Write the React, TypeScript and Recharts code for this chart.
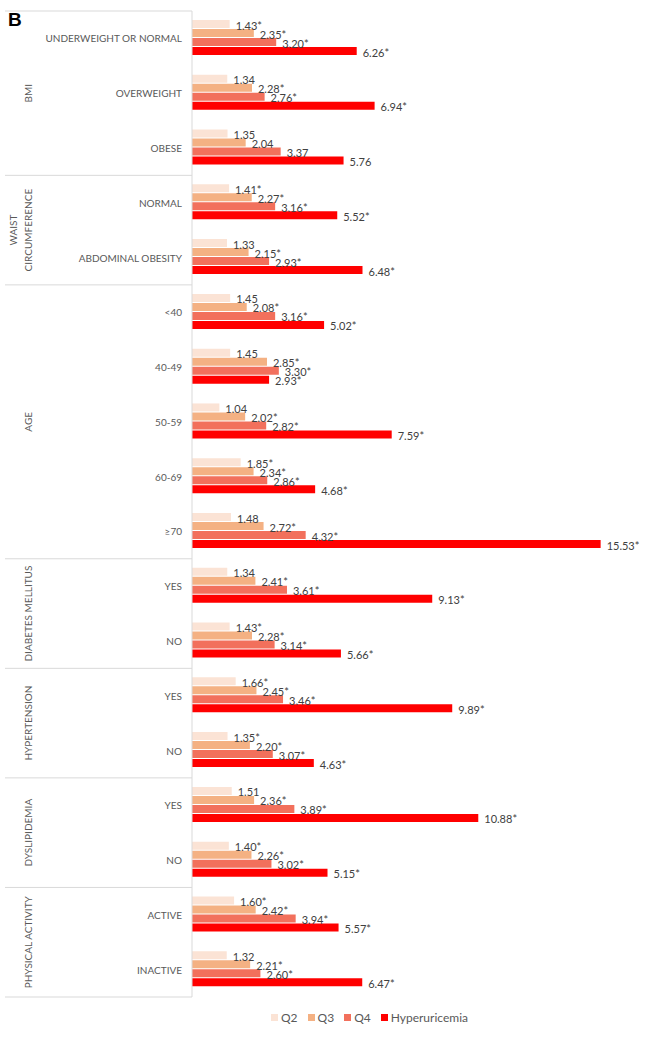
import React from "react";
import { BarChart, Bar, XAxis, YAxis, LabelList, Legend } from "recharts";

const categories = [
  "UNDERWEIGHT OR NORMAL", "OVERWEIGHT", "OBESE",
  "NORMAL", "ABDOMINAL OBESITY",
  "<40", "40-49", "50-59", "60-69", "≥70",
  "YES", "NO",
  "YES", "NO",
  "YES", "NO",
  "ACTIVE", "INACTIVE",
];

const groups = [
  { lines: ["BMI"], size: 3 },
  { lines: ["WAIST", "CIRCUMFERENCE"], size: 2 },
  { lines: ["AGE"], size: 5 },
  { lines: ["DIABETES MELLITUS"], size: 2 },
  { lines: ["HYPERTENSION"], size: 2 },
  { lines: ["DYSLIPIDEMIA"], size: 2 },
  { lines: ["PHYSICAL ACTIVITY"], size: 2 },
];

const q2 = [1.43, 1.34, 1.35, 1.41, 1.33, 1.45, 1.45, 1.04, 1.85, 1.48, 1.34, 1.43, 1.66, 1.35, 1.51, 1.40, 1.60, 1.32];
const q3 = [2.35, 2.28, 2.04, 2.27, 2.15, 2.08, 2.85, 2.02, 2.34, 2.72, 2.41, 2.28, 2.45, 2.20, 2.36, 2.26, 2.42, 2.21];
const q4 = [3.20, 2.76, 3.37, 3.16, 2.93, 3.16, 3.30, 2.82, 2.86, 4.32, 3.61, 3.14, 3.46, 3.07, 3.89, 3.02, 3.94, 2.60];
const hyper = [6.26, 6.94, 5.76, 5.52, 6.48, 5.02, 2.93, 7.59, 4.68, 15.53, 9.13, 5.66, 9.89, 4.63, 10.88, 5.15, 5.57, 6.47];

// significance marks (*)
const q2Sig = [1, 0, 0, 1, 0, 0, 0, 0, 1, 0, 0, 1, 1, 1, 0, 1, 1, 0];
const q3Sig = [1, 1, 0, 1, 1, 1, 1, 1, 1, 1, 1, 1, 1, 1, 1, 1, 1, 1];
const q4Sig = [1, 1, 0, 1, 1, 1, 1, 1, 1, 1, 1, 1, 1, 1, 1, 1, 1, 1];
const hyperSig = [1, 1, 0, 1, 1, 1, 1, 1, 1, 1, 1, 1, 1, 1, 1, 1, 1, 1];

const series = [
  { key: "q2", name: "Q2", color: "#FBE3D5" },
  { key: "q3", name: "Q3", color: "#F4B183" },
  { key: "q4", name: "Q4", color: "#F2705C" },
  { key: "hyper", name: "Hyperuricemia", color: "#FF0000" },
];

const fmt = (v: number, s: number) => v.toFixed(2) + (s ? "*" : "");

const data = categories.map((name, i) => ({
  name,
  q2: q2[i],
  q3: q3[i],
  q4: q4[i],
  hyper: hyper[i],
  q2Label: fmt(q2[i], q2Sig[i]),
  q3Label: fmt(q3[i], q3Sig[i]),
  q4Label: fmt(q4[i], q4Sig[i]),
  hyperLabel: fmt(hyper[i], hyperSig[i]),
}));

const W = 649;
const H = 1038;
const TOP = 11;
const BOTTOM = 41;
const AXIS_W = 192;
const FONT = "Lato, 'Open Sans', sans-serif";
const LINE = "#d9d9d9";
const BAND = (H - TOP - BOTTOM) / categories.length;

// start index of each group
const groupStarts: Record<number, { lines: string[]; size: number }> = {};
let acc = 0;
groups.forEach((g) => {
  groupStarts[acc] = g;
  acc += g.size;
});

function CategoryTick(props: any) {
  const { y, payload } = props;
  const i = props.index ?? payload.index;
  const g = groupStarts[i];
  const last = i === categories.length - 1;
  return (
    <g>
      <text x={AXIS_W - 10} y={y} textAnchor="end" dominantBaseline="central"
        fontFamily={FONT} fontSize={10} fill="#595959">
        {payload.value}
      </text>
      {g && (
        <line x1={5} x2={AXIS_W} y1={y - BAND / 2} y2={y - BAND / 2} stroke={LINE} strokeWidth={1} />
      )}
      {g && g.lines.map((t, k) => {
        const cy = y - BAND / 2 + (g.size * BAND) / 2;
        const cx = 28 - (g.lines.length - 1 - k) * 15;
        return (
          <text key={k} x={cx} y={cy} transform={`rotate(-90 ${cx} ${cy})`}
            textAnchor="middle" dominantBaseline="central"
            fontFamily={FONT} fontSize={10} fill="#595959">
            {t}
          </text>
        );
      })}
      {last && (
        <line x1={5} x2={AXIS_W} y1={y + BAND / 2} y2={y + BAND / 2} stroke={LINE} strokeWidth={1} />
      )}
    </g>
  );
}

function ValueLabel(props: any) {
  const { x, y, width, height, value } = props;
  return (
    <text x={x + width + 6} y={y + height / 2 + 1} dominantBaseline="central"
      fontFamily={FONT} fontSize={11} fill="#404040">
      {value}
    </text>
  );
}

function LegendContent() {
  return (
    <div style={{ display: "flex", paddingLeft: 271, fontFamily: FONT, fontSize: 12, color: "#595959" }}>
      {series.map((s) => (
        <div key={s.key} style={{ display: "flex", alignItems: "center", marginRight: 10 }}>
          <span style={{ width: 7, height: 7, background: s.color, marginRight: 3, display: "inline-block" }} />
          <span>{s.name}</span>
        </div>
      ))}
    </div>
  );
}

export default function App() {
  return (
    <div style={{ position: "absolute", left: 0, top: 0, width: W, height: H, background: "#fff" }}>
      <div style={{ position: "absolute", left: 8, top: 9, fontFamily: "Arial, 'Liberation Sans', sans-serif",
        fontWeight: "bold", fontSize: 19, color: "#000", zIndex: 2 }}>B</div>
      <BarChart width={W} height={H} data={data} layout="vertical"
        margin={{ top: TOP, right: 36, bottom: BOTTOM, left: 0 }}
        barCategoryGap={9} barGap={1}>
        <XAxis type="number" domain={[0, 16]} hide />
        <YAxis type="category" dataKey="name" width={AXIS_W} interval={0}
          tickLine={false} axisLine={{ stroke: LINE }} tick={<CategoryTick />} />
        {series.map((s) => (
          <Bar key={s.key} dataKey={s.key} name={s.name} fill={s.color} isAnimationActive={false}>
            <LabelList dataKey={s.key + "Label"} content={<ValueLabel />} />
          </Bar>
        ))}
        <Legend layout="horizontal" verticalAlign="middle" align="center"
          wrapperStyle={{ top: 1010, left: 0, width: W }} content={<LegendContent />} />
      </BarChart>
    </div>
  );
}
